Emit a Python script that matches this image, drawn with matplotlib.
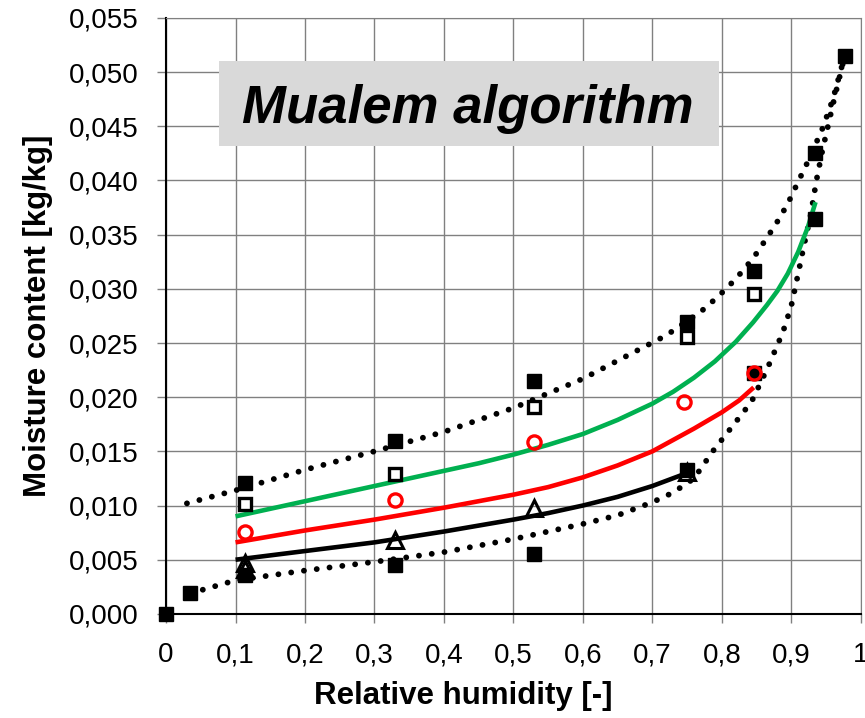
import matplotlib
matplotlib.use('Agg')
import matplotlib.pyplot as plt
from matplotlib.patches import Rectangle
from matplotlib.ticker import MultipleLocator, FuncFormatter

plt.rcParams['font.family'] = ['Liberation Sans', 'DejaVu Sans']

# measured points
sq_x = [0.0, 0.034, 0.113, 0.113, 0.33, 0.33, 0.53, 0.53, 0.75, 0.75, 0.846, 0.846, 0.934, 0.934, 0.977]
sq_y = [0.0, 0.0019, 0.0121, 0.0036, 0.0160, 0.0045, 0.0215, 0.0055, 0.0269, 0.0133, 0.0316, 0.0222, 0.0425, 0.0364, 0.0515]

open_sq_x = [0.113, 0.33, 0.53, 0.75, 0.846]
open_sq_y = [0.0101, 0.0129, 0.0191, 0.0256, 0.0295]

circ_x = [0.113, 0.33, 0.53, 0.746, 0.846]
circ_y = [0.0076, 0.0105, 0.0159, 0.0196, 0.0222]

tri_x = [0.113, 0.113, 0.33, 0.53, 0.75]
tri_y = [0.0047, 0.0041, 0.0068, 0.0098, 0.0131]

# model curves
green_x = [0.10, 0.15, 0.20, 0.25, 0.30, 0.35, 0.40, 0.45, 0.50, 0.55, 0.60, 0.65, 0.70, 0.73, 0.76,
           0.79, 0.82, 0.845, 0.865, 0.88, 0.895, 0.91, 0.924, 0.935]
green_y = [0.0090, 0.0097, 0.0104, 0.0111, 0.0118, 0.0125, 0.0132, 0.0139, 0.0147, 0.0156, 0.0166, 0.0179, 0.0194, 0.0205, 0.0218,
           0.0233, 0.0251, 0.0269, 0.0285, 0.0298, 0.0314, 0.0334, 0.0357, 0.0380]

red_x = [0.10, 0.20, 0.30, 0.40, 0.50, 0.55, 0.60, 0.65, 0.70, 0.76, 0.80, 0.825, 0.846]
red_y = [0.0066, 0.0077, 0.0087, 0.0098, 0.0110, 0.0117, 0.0126, 0.0137, 0.0150, 0.0171, 0.0186, 0.0197, 0.0209]

black_x = [0.10, 0.20, 0.30, 0.40, 0.50, 0.55, 0.60, 0.65, 0.70, 0.75]
black_y = [0.0050, 0.0058, 0.0066, 0.0076, 0.0087, 0.0093, 0.0100, 0.0108, 0.0118, 0.0130]

# envelope curves (dotted)
upper_x = [0.03, 0.10, 0.20, 0.30, 0.40, 0.50, 0.60, 0.72, 0.77, 0.795, 0.82, 0.845, 0.865, 0.885,
           0.90, 0.91, 0.92, 0.93, 0.945, 0.96, 0.977]
upper_y = [0.0102, 0.0114, 0.0133, 0.0150, 0.0168, 0.0190, 0.0217, 0.0257, 0.0279, 0.0293, 0.0309, 0.0328, 0.0347, 0.0367,
           0.0385, 0.0399, 0.0412, 0.0426, 0.0448, 0.0475, 0.0515]

lower_x = [0.035, 0.10, 0.20, 0.30, 0.40, 0.50, 0.60, 0.65, 0.70, 0.73, 0.76, 0.787, 0.82, 0.843, 0.866, 0.888,
           0.90, 0.911, 0.918, 0.928, 0.936, 0.945, 0.96, 0.977]
lower_y = [0.0019, 0.0031, 0.0040, 0.0048, 0.0057, 0.0069, 0.0083, 0.0091, 0.0103, 0.0112, 0.0125, 0.0150, 0.0177, 0.0196, 0.0227, 0.0260,
           0.0284, 0.0317, 0.0339, 0.0368, 0.0399, 0.0428, 0.0470, 0.0515]

fig = plt.figure(figsize=(8.65, 7.18), dpi=100)
ax = fig.add_axes([0.192, 0.145, 0.803, 0.830])

ax.grid(True, color='#808080', lw=1.0)
ax.set_axisbelow(True)

dots = dict(color='black', lw=4.2, linestyle=(0, (0.01, 2.2)), dash_capstyle='round')
ax.plot(upper_x, upper_y, **dots)
ax.plot(lower_x, lower_y, **dots)

ax.plot(green_x, green_y, color='#00b050', lw=3.3, solid_capstyle='butt')
ax.plot(red_x, red_y, color='#ff0000', lw=3.3, solid_capstyle='butt')
ax.plot(black_x, black_y, color='black', lw=3.3, solid_capstyle='butt')

ax.plot(sq_x, sq_y, 's', color='black', ms=10.5, ls='none', clip_on=False, zorder=5)
ax.plot(open_sq_x, open_sq_y, 's', mfc='white', mec='black', mew=2.4, ms=9, ls='none', zorder=5)
ax.plot(circ_x, circ_y, 'o', mfc='none', mec='#ff0000', mew=2.4, ms=9.5, ls='none', zorder=6)
ax.plot(tri_x, tri_y, '^', mfc='none', mec='black', mew=2.2, ms=12, ls='none', zorder=5)

ax.set_xlim(0, 1)
ax.set_ylim(0, 0.055)
ax.xaxis.set_major_locator(MultipleLocator(0.1))
ax.yaxis.set_major_locator(MultipleLocator(0.005))
ax.xaxis.set_major_formatter(FuncFormatter(lambda v, p: ('%g' % round(v, 1)).replace('.', ',')))
ax.yaxis.set_major_formatter(FuncFormatter(lambda v, p: ('%.3f' % v).replace('.', ',')))
ax.tick_params(axis='both', labelsize=20, direction='out', length=6.5, width=1, color='#808080')
ax.tick_params(axis='x', pad=14)
ax.tick_params(axis='y', pad=13)

for s in ['top', 'right']:
    ax.spines[s].set_color('#808080')
for s in ['left', 'bottom']:
    ax.spines[s].set_color('black')
    ax.spines[s].set_linewidth(1.5)

ax.set_xlabel('Relative humidity [-]', fontsize=22.5, fontweight='bold')
ax.xaxis.set_label_coords(0.428, -0.112)
ax.set_ylabel('Moisture content [kg/kg]', fontsize=22.5, fontweight='bold', labelpad=12)

# title box
ax.add_patch(Rectangle((0.076, 0.0432), 0.72, 0.0078, fc='#d9d9d9', ec='none', zorder=4))
ax.text(0.435, 0.0453, 'Mualem algorithm', fontsize=38, fontweight='bold', fontstyle='italic',
        ha='center', va='baseline', zorder=7)

fig.savefig('out.png', dpi=100)
